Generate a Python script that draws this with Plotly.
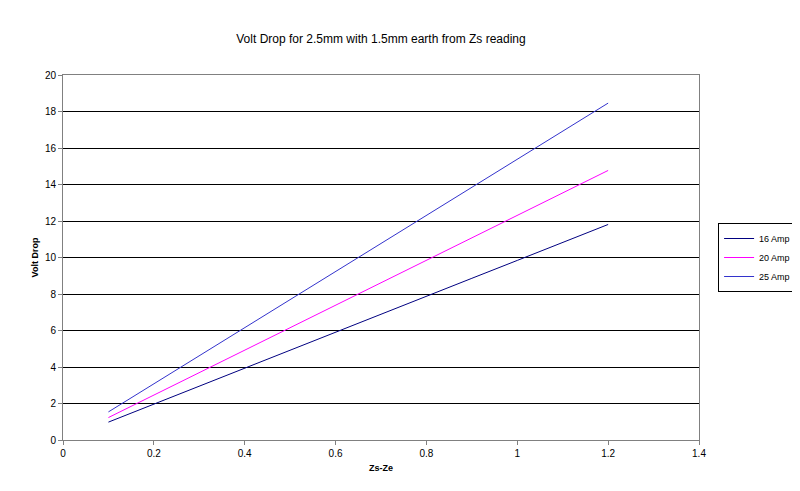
import plotly.graph_objects as go

zs_ze = [0.1, 0.2, 0.3, 0.4, 0.5, 0.6, 0.7, 0.8, 0.9, 1.0, 1.1, 1.2]
amp_16 = [0.98, 1.97, 2.95, 3.94, 4.92, 5.90, 6.89, 7.87, 8.86, 9.84, 10.82, 11.81]
amp_20 = [1.23, 2.46, 3.69, 4.92, 6.15, 7.38, 8.62, 9.85, 11.08, 12.31, 13.54, 14.77]
amp_25 = [1.54, 3.08, 4.62, 6.15, 7.69, 9.23, 10.77, 12.31, 13.85, 15.38, 16.92, 18.46]

fig = go.Figure()
for name, ys, color in [
    ("16 Amp", amp_16, "#000080"),
    ("20 Amp", amp_20, "#FF00FF"),
    ("25 Amp", amp_25, "#3333CC"),
]:
    fig.add_trace(go.Scatter(x=zs_ze, y=ys, mode="lines", name=name,
                             line=dict(color=color, width=1)))

fig.update_layout(
    width=800, height=491,
    paper_bgcolor="white", plot_bgcolor="white",
    font=dict(family="Liberation Sans, Arial", size=10, color="black"),
    title=dict(text="Volt Drop for 2.5mm with 1.5mm earth from Zs reading",
               x=0.5, xref="paper", y=0.945, font=dict(size=12)),
    margin=dict(l=55, r=92, t=67, b=59),
    showlegend=True,
    legend=dict(x=1.03, y=0.5, xanchor="left", yanchor="middle",
                bordercolor="black", borderwidth=1, font=dict(size=9),
                itemwidth=30, tracegroupgap=0),
    xaxis=dict(title=dict(text="<b>Zs-Ze</b>", standoff=6, font=dict(size=9)),
               range=[0, 1.4], dtick=0.2, automargin=False,
               showgrid=False, showline=True, linecolor="#808080", mirror=True,
               ticks="outside", ticklen=4, tickcolor="#808080", zeroline=False),
    yaxis=dict(title=dict(text="<b>Volt Drop</b>", standoff=4, font=dict(size=9)),
               range=[0, 20], dtick=2, automargin=False,
               showgrid=True, gridcolor="black", gridwidth=1,
               showline=True, linecolor="#808080", mirror=True,
               ticks="outside", ticklen=4, tickcolor="#808080", zeroline=False),
)

fig.write_html("out.html")
